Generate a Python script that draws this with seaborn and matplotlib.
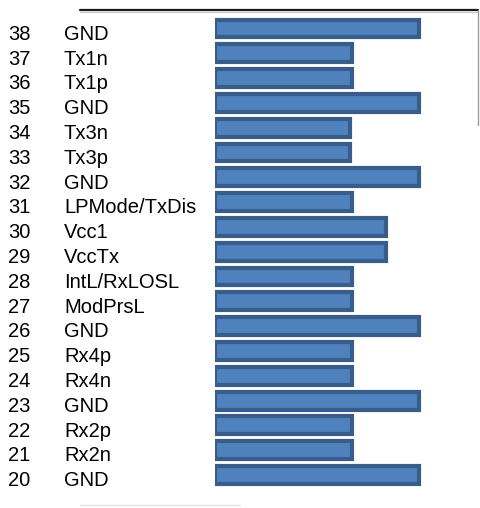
import matplotlib
matplotlib.use("Agg")
import matplotlib.pyplot as plt
import matplotlib.transforms as mtransforms
from matplotlib.lines import Line2D
import seaborn as sns
import pandas as pd

pins = ["38", "37", "36", "35", "34", "33", "32", "31", "30", "29",
        "28", "27", "26", "25", "24", "23", "22", "21", "20"]
names = ["GND", "Tx1n", "Tx1p", "GND", "Tx3n", "Tx3p", "GND", "LPMode/TxDis",
         "Vcc1", "VccTx", "IntL/RxLOSL", "ModPrsL", "GND", "Rx4p", "Rx4n",
         "GND", "Rx2p", "Rx2n", "GND"]
values = [6.0, 4.03, 4.03, 6.0, 3.97, 3.97, 6.0, 4.03, 5.03, 5.03,
          4.03, 4.03, 6.0, 4.03, 4.03, 6.0, 4.03, 4.03, 6.0]

df = pd.DataFrame({"pin": pins, "name": names, "value": values})

sns.set_style("white")
plt.rcParams["font.family"] = ["Liberation Sans", "DejaVu Sans"]

W, H = 480, 508
fig = plt.figure(figsize=(W / 100, H / 100), dpi=100)
ax = fig.add_axes([215.1 / W, 1 - 487.4 / H, (478 - 215.1) / W, (487.4 - 16.1) / H])

sns.barplot(data=df, y="pin", x="value", order=pins, orient="h",
            color="#4f81bd", edgecolor="#385d8a", linewidth=3.0,
            width=0.72, saturation=1, ax=ax)
ax.set_xlim(0, (478 - 215.1) / 203.8 * 6)
ax.set_ylim(18.5, -0.5)
ax.set_xticks([])
ax.set_yticks([])
ax.set_xlabel("")
ax.set_ylabel("")
for s in ax.spines.values():
    s.set_visible(False)

base = mtransforms.blended_transform_factory(fig.transFigure, ax.transData)
tr = mtransforms.offset_copy(base, fig=fig, x=0, y=-11.2, units="dots")
for i, (p, n) in enumerate(zip(pins, names)):
    ax.text(8 / W, i, p, transform=tr, va="baseline", ha="left",
            fontsize=14.5, color="#000000", clip_on=False)
    ax.text(64 / W, i, n, transform=tr, va="baseline", ha="left",
            fontsize=14.5, color="#000000", clip_on=False)

fig.add_artist(Line2D([80 / W, 478 / W], [1 - 9.8 / H] * 2, transform=fig.transFigure,
                      color="#1a1a1a", lw=1.6))
fig.add_artist(Line2D([80 / W, 478 / W], [1 - 12 / H] * 2, transform=fig.transFigure,
                      color="#c8c8c8", lw=0.8))
fig.add_artist(Line2D([477.5 / W] * 2, [1 - 10 / H, 1 - 125 / H], transform=fig.transFigure,
                      color="#9a9a9a", lw=1.0))
fig.add_artist(Line2D([80 / W, 240 / W], [1 - 505 / H] * 2, transform=fig.transFigure,
                      color="#e4e4e4", lw=1.0))

fig.savefig("out.png", dpi=100)
